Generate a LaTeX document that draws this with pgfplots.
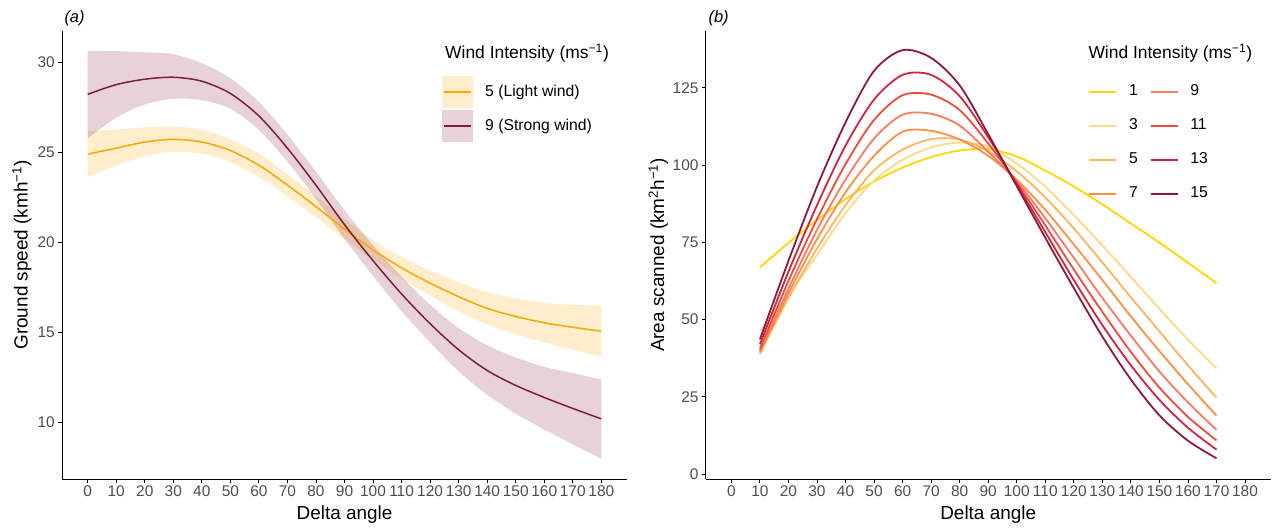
\documentclass[border=0pt]{standalone}
\usepackage{fontspec}
\setmainfont{Liberation Sans}
\usepackage{pgfplots}
\usepackage{pgfplotstable}
\pgfplotsset{compat=1.18}
\usepgfplotslibrary{fillbetween}

\definecolor{tickgray}{HTML}{4D4D4D}
\definecolor{lightc}{HTML}{FFA500}
\definecolor{strongc}{HTML}{801E37}
\definecolor{wa}{HTML}{FFD700}
\definecolor{wb}{HTML}{FED98A}
\definecolor{wc}{HTML}{FDB561}
\definecolor{wd}{HTML}{FD9049}
\definecolor{we}{HTML}{FB7A62}
\definecolor{wf}{HTML}{EC4C3F}
\definecolor{wg}{HTML}{CC2640}
\definecolor{wh}{HTML}{8B1A3A}

% Panel (a): light wind (5 m/s)
\pgfplotstableread{
x    line   lo     hi
0    24.92  23.66  26.20
10   25.25  24.28  26.28
20   25.59  24.80  26.40
30   25.74  25.05  26.45
40   25.59  24.94  26.26
50   25.12  24.47  25.77
60   24.30  23.65  24.95
70   23.20  22.58  23.82
80   22.00  21.42  22.58
90   20.75  20.20  21.30
100  19.60  19.05  20.15
110  18.60  18.00  19.20
120  17.75  17.05  18.45
130  17.00  16.20  17.80
140  16.35  15.45  17.25
150  15.90  14.90  16.90
160  15.55  14.45  16.65
170  15.30  14.05  16.55
180  15.08  13.66  16.50
}\lightdata

% Panel (a): strong wind (9 m/s)
\pgfplotstableread{
x    line   lo     hi
0    28.24  25.80  30.66
10   28.78  26.94  30.64
20   29.08  27.68  30.58
30   29.19  27.99  30.47
40   28.97  27.92  29.97
50   28.29  27.44  29.14
60   27.04  26.26  27.82
70   25.25  24.50  26.00
80   23.19  22.44  23.94
90   21.00  20.20  21.80
100  19.00  18.15  19.85
110  17.15  16.20  18.10
120  15.50  14.45  16.55
130  14.05  12.85  15.25
140  12.90  11.55  14.30
150  12.07  10.50  13.62
160  11.40   9.62  13.10
170  10.79   8.80  12.75
180  10.21   8.00  12.40
}\strongdata

\pgfplotsset{
  panel/.style={
    scale only axis, width=565bp, height=448bp, anchor=south west,
    axis x line*=bottom, axis y line*=left,
    axis line style={line width=0.9bp, black, -},
    xmin=-9, xmax=189, xtick={0,10,...,180},
    tick align=outside, major tick length=4bp,
    tick style={line width=0.9bp, black},
    minor tick num=0,
    /pgf/number format/assume math mode=true,
    ticklabel style={font=\fontsize{15.5}{18}\selectfont, text=tickgray},
    xticklabel style={inner sep=0pt, yshift=-3bp},
    yticklabel style={inner sep=0pt, xshift=-3bp},
    legend cell align=left,
    clip=false,
  },
}

\begin{document}
\begin{tikzpicture}

% ---------------- Panel (a) ----------------
\begin{axis}[panel, at={(62bp,49bp)},
  ymin=6.87, ymax=31.76, ytick={10,15,20,25,30},
  legend style={at={(0.6726,0.8996)}, anchor=north west, draw=none, fill=none,
    inner sep=0pt, row sep=2bp, column sep=12bp,
    font=\fontsize{15.8}{18}\selectfont,
    nodes={inner sep=0pt, text height=11bp, text depth=3bp}},
]
\addplot[draw=none, name path=lh, smooth, forget plot] table[x=x, y=hi] {\lightdata};
\addplot[draw=none, name path=ll, smooth, forget plot] table[x=x, y=lo] {\lightdata};
\addplot[fill=lightc, fill opacity=0.2, draw=none, forget plot] fill between[of=lh and ll];
\addplot[lightc, line width=1.5bp, smooth, forget plot] table[x=x, y=line] {\lightdata};

\addplot[draw=none, name path=sh, smooth, forget plot] table[x=x, y=hi] {\strongdata};
\addplot[draw=none, name path=sl, smooth, forget plot] table[x=x, y=lo] {\strongdata};
\addplot[fill=strongc, fill opacity=0.2, draw=none, forget plot] fill between[of=sh and sl];
\addplot[strongc, line width=1.5bp, smooth, forget plot] table[x=x, y=line] {\strongdata};

\addlegendimage{legend image code/.code={
  \path[draw=none, fill=lightc, fill opacity=0.2] (0bp,-16bp) rectangle (31bp,16bp);
  \path[draw=lightc, line width=1.5bp] (2bp,0bp) -- (29bp,0bp);}}
\addlegendentry{5 (Light wind)}
\addlegendimage{legend image code/.code={
  \path[draw=none, fill=strongc, fill opacity=0.2] (0bp,-16bp) rectangle (31bp,16bp);
  \path[draw=strongc, line width=1.5bp] (2bp,0bp) -- (29bp,0bp);}}
\addlegendentry{9 (Strong wind)}
\end{axis}

% ---------------- Panel (b) ----------------
\begin{axis}[panel, at={(705.7bp,49bp)},
  ymin=-1.6, ymax=143.4, ytick={0,25,50,75,100,125},
  legend columns=2,
  legend style={at={(0.6761,0.8913)}, anchor=north west, draw=none, fill=none,
    inner sep=0pt, row sep=10bp, column sep=11.5bp,
    font=\fontsize{15.8}{18}\selectfont,
    nodes={inner sep=0pt, text height=11bp, text depth=3bp}},
]
\addplot[wa, line width=1.8bp, smooth, forget plot] coordinates {
(10,66.9)(20,74.8)(30,82.2)(40,89.0)(50,94.7)(60,99.2)(70,102.6)(80,104.7)(90,105.2)
(100,102.8)(110,98.2)(120,93.1)(130,87.3)(140,81.1)(150,74.9)(160,68.4)(170,61.8)};
\addplot[wb, line width=1.8bp, smooth, forget plot] coordinates {
(10,46.4)(20,58.0)(30,71.0)(40,84.5)(50,95.0)(60,101.7)(70,105.7)(80,107.3)(90,106.0)
(100,100.5)(110,93.0)(120,83.8)(130,74.0)(140,63.8)(150,53.5)(160,43.5)(170,34.2)};
\addplot[wc, line width=1.8bp, smooth, forget plot] coordinates {
(10,39.0)(20,57.0)(30,73.0)(40,87.0)(50,98.3)(60,105.0)(70,108.4)(80,108.3)(90,104.5)
(100,98.0)(110,89.5)(120,79.5)(130,68.5)(140,57.2)(150,46.2)(160,35.2)(170,24.7)};
\addplot[wd, line width=1.8bp, smooth, forget plot] coordinates {
(10,39.3)(20,58.5)(30,76.0)(40,91.2)(50,103.0)(60,110.8)(70,111.1)(80,108.3)(90,103.0)
(100,95.3)(110,85.5)(120,74.3)(130,62.8)(140,51.0)(150,39.8)(160,29.1)(170,18.9)};
\addplot[we, line width=1.8bp, smooth, forget plot] coordinates {
(10,39.8)(20,60.0)(30,79.0)(40,95.3)(50,108.6)(60,116.3)(70,116.6)(80,112.8)(90,104.3)
(100,94.8)(110,82.8)(120,70.0)(130,57.0)(140,44.8)(150,33.2)(160,23.2)(170,14.3)};
\addplot[wf, line width=1.8bp, smooth, forget plot] coordinates {
(10,40.5)(20,62.5)(30,82.5)(40,100.3)(50,114.6)(60,122.6)(70,122.8)(80,117.8)(90,107.0)
(100,94.3)(110,80.5)(120,66.2)(130,52.5)(140,39.5)(150,28.0)(160,18.5)(170,10.9)};
\addplot[wg, line width=1.8bp, smooth, forget plot] coordinates {
(10,42.0)(20,65.5)(30,87.0)(40,106.3)(50,121.2)(60,129.2)(70,129.2)(80,122.3)(90,109.0)
(100,93.8)(110,78.3)(120,62.8)(130,48.2)(140,35.2)(150,24.0)(160,15.0)(170,7.9)};
\addplot[wh, line width=1.8bp, smooth, forget plot] coordinates {
(10,43.6)(20,69.0)(30,93.0)(40,113.8)(50,130.5)(60,137.2)(70,134.7)(80,125.8)(90,110.0)
(100,93.2)(110,76.5)(120,60.2)(130,44.5)(140,30.6)(150,19.0)(160,10.8)(170,5.1)};

\addlegendimage{legend image code/.code={\path[draw=none] (0bp,-12bp) rectangle (27bp,12bp); \path[draw=wa, line width=2.6bp] (0bp,0bp) -- (27bp,0bp);}}
\addlegendentry{1}
\addlegendimage{legend image code/.code={\path[draw=none] (0bp,-12bp) rectangle (27bp,12bp); \path[draw=we, line width=2.6bp] (0bp,0bp) -- (27bp,0bp);}}
\addlegendentry{9}
\addlegendimage{legend image code/.code={\path[draw=none] (0bp,-12bp) rectangle (27bp,12bp); \path[draw=wb, line width=2.6bp] (0bp,0bp) -- (27bp,0bp);}}
\addlegendentry{3}
\addlegendimage{legend image code/.code={\path[draw=none] (0bp,-12bp) rectangle (27bp,12bp); \path[draw=wf, line width=2.6bp] (0bp,0bp) -- (27bp,0bp);}}
\addlegendentry{11}
\addlegendimage{legend image code/.code={\path[draw=none] (0bp,-12bp) rectangle (27bp,12bp); \path[draw=wc, line width=2.6bp] (0bp,0bp) -- (27bp,0bp);}}
\addlegendentry{5}
\addlegendimage{legend image code/.code={\path[draw=none] (0bp,-12bp) rectangle (27bp,12bp); \path[draw=wg, line width=2.6bp] (0bp,0bp) -- (27bp,0bp);}}
\addlegendentry{13}
\addlegendimage{legend image code/.code={\path[draw=none] (0bp,-12bp) rectangle (27bp,12bp); \path[draw=wd, line width=2.6bp] (0bp,0bp) -- (27bp,0bp);}}
\addlegendentry{7}
\addlegendimage{legend image code/.code={\path[draw=none] (0bp,-12bp) rectangle (27bp,12bp); \path[draw=wh, line width=2.6bp] (0bp,0bp) -- (27bp,0bp);}}
\addlegendentry{15}
\end{axis}

% ---------------- Titles and labels ----------------
\node[anchor=base west, font=\fontsize{16.5}{18}\selectfont\itshape] at (61bp,505bp) {(a)};
\node[anchor=base west, font=\fontsize{16.5}{18}\selectfont\itshape] at (705bp,505bp) {(b)};

\node[anchor=base west, font=\fontsize{17.5}{20}\selectfont] at (441.7bp,469bp) {Wind Intensity (ms\textsuperscript{−1})};
\node[anchor=base west, font=\fontsize{17.5}{20}\selectfont] at (1085bp,469bp) {Wind Intensity (ms\textsuperscript{−1})};

\node[anchor=base, font=\fontsize{19}{22}\selectfont] at (344.5bp,9bp) {Delta angle};
\node[anchor=base, font=\fontsize{19}{22}\selectfont] at (988.2bp,9bp) {Delta angle};

\node[anchor=base, rotate=90, font=\fontsize{19}{22}\selectfont] at (27.5bp,273bp) {Ground speed (kmh\textsuperscript{−1})};
\node[anchor=base, rotate=90, font=\fontsize{19}{22}\selectfont] at (664bp,273bp) {Area scanned (km\textsuperscript{2}h\textsuperscript{−1})};

\pgfresetboundingbox
\path[use as bounding box] (0bp,0bp) rectangle (1274bp,528bp);
\end{tikzpicture}
\end{document}
